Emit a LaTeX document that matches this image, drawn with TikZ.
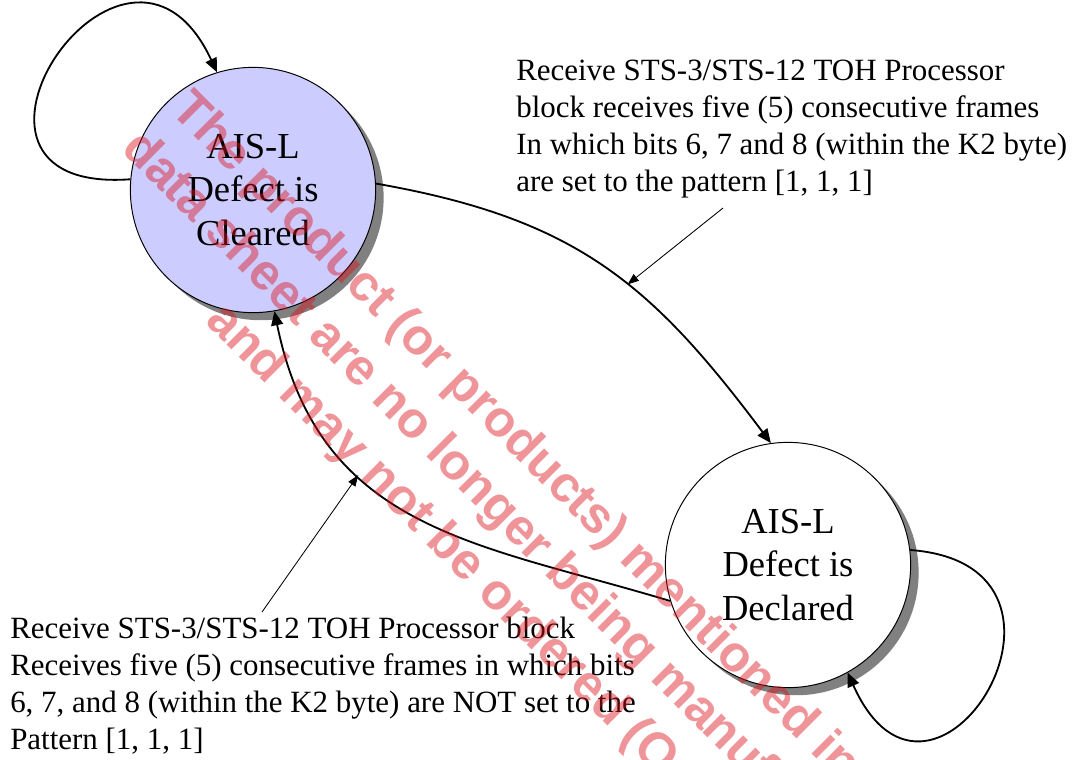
\documentclass[tikz,border=0pt]{standalone}
\usepackage{fontspec}
\setmainfont{Liberation Serif}
\newfontfamily\wmfont{Liberation Sans}
\usetikzlibrary{arrows.meta,shadows}
\definecolor{lavender}{RGB}{204,204,255}
\definecolor{wmred}{RGB}{220,20,30}
\tikzset{
  st/.style  ={circle,draw,line width=0.7pt,minimum size=6.13cm,inner sep=0pt,align=center,
               font=\fontsize{26}{31}\selectfont,
               drop shadow={shadow xshift=0.2cm,shadow yshift=-0.19cm,fill=black!50,opacity=1}},
  tr/.style  ={line width=1.3pt,-{Triangle[length=10pt,width=8.5pt]}},
  ptr/.style ={line width=0.6pt,-{Triangle[length=8pt,width=6pt]}},
  note/.style={align=left,inner sep=0pt,anchor=north west,font=\fontsize{22}{26.3}\selectfont},
  wm/.style  ={rotate=-45,anchor=base west,inner sep=0pt,text=wmred,text opacity=0.45,
               font=\wmfont\bfseries\fontsize{36}{36}\selectfont},
}
\begin{document}
\begin{tikzpicture}[x=0.025cm,y=-0.025cm]
  \useasboundingbox (0,0) rectangle (1080,759);
  \clip (0,0) rectangle (1080,759);
  \node[st,fill=lavender] (clr) at (253,190){AIS-L\\Defect is\\Cleared};
  \node[st,fill=white] (dcl) at (788,565){AIS-L\\Defect is\\Declared};
  \draw[tr] (clr.175) .. controls +(-220,16) and +(-92,-197) .. (clr.107);
  \draw[tr] (dcl.7) .. controls +(205,15) and +(85,190) .. (dcl.-61);
  \draw[tr] (clr.3) .. controls +(200,35) and +(-120,-160) .. coordinate[pos=0.57] (hitset) (dcl.98);
  \draw[tr] (dcl.197) .. controls +(-192,-58) and +(45,220) .. coordinate[pos=0.655] (hitclr) (clr.280);
  \node[note] (set) at (516,60){Receive STS-3/STS-12 TOH Processor\\
    block receives five (5) consecutive frames\\
    In which bits 6, 7 and 8 (within the K2 byte)\\
    are set to the pattern [1, 1, 1]};
  \node[note] (unset) at (10,617){Receive STS-3/STS-12 TOH Processor block\\
    Receives five (5) consecutive frames in which bits\\
    6, 7, and 8 (within the K2 byte) are NOT set to the\\
    Pattern [1, 1, 1]};
  \coordinate (fromset) at (723,208);
  \coordinate (fromclr) at (262,612);
  \draw[ptr] (fromset) -- (hitset);
  \draw[ptr] (fromclr) -- (hitclr);
  % watermark
  \node[wm] (wm1) at (169,111){The product (or products) mentioned in};
  \node[wm] (wm2) at (120,150){data sheet are no longer being manuf};
  \node[wm] (wm3) at (204,322){and may not be ordered (O};
\end{tikzpicture}
\end{document}
